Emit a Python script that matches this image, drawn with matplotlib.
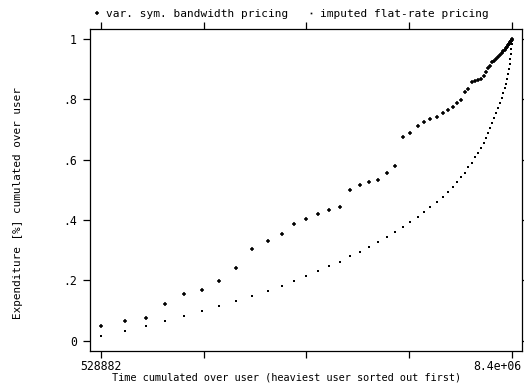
import matplotlib
matplotlib.use("Agg")
import matplotlib.pyplot as plt

# cumulated time per user (heaviest user first), in seconds
zeit = [528882, 988170, 1395788, 1765132, 2122994, 2461719, 2792789, 3118118,
        3430051, 3724761, 4004161, 4233805, 4463449, 4681611, 4903600, 5114107,
        5305477, 5491106, 5663339, 5835572, 6002064, 6157074, 6304429, 6453697,
        6595311, 6715874, 6836437, 6958914, 7069909, 7169421, 7265106, 7347395,
        7423943, 7490923, 7561730, 7634450, 7693775, 7756927, 7814338, 7860267,
        7898541, 7932987, 7978916, 8022931, 8061205, 8097566, 8135840, 8170286,
        8200905, 8229611, 8256403, 8281281, 8304245, 8323382, 8340605, 8355915,
        8369311, 8380793, 8388448, 8396103, 8400000]

# cumulated expenditure share, variable symmetric bandwidth pricing
var_bw = [0.047, 0.066, 0.075, 0.121, 0.155, 0.168, 0.197, 0.241, 0.302, 0.331,
          0.353, 0.385, 0.403, 0.420, 0.433, 0.442, 0.498, 0.515, 0.527, 0.532,
          0.556, 0.578, 0.674, 0.688, 0.712, 0.726, 0.734, 0.741, 0.756, 0.766,
          0.775, 0.787, 0.797, 0.823, 0.835, 0.856, 0.860, 0.863, 0.868, 0.877,
          0.891, 0.903, 0.911, 0.923, 0.928, 0.934, 0.939, 0.947, 0.953, 0.959,
          0.965, 0.970, 0.975, 0.979, 0.982, 0.986, 0.989, 0.992, 0.994, 0.997,
          1.000]

# cumulated expenditure share, imputed flat rate
flat = [0.016, 0.033, 0.049, 0.066, 0.082, 0.098, 0.115, 0.131, 0.148, 0.164,
        0.180, 0.197, 0.213, 0.230, 0.246, 0.262, 0.279, 0.295, 0.311, 0.328,
        0.344, 0.361, 0.377, 0.393, 0.410, 0.426, 0.443, 0.459, 0.475, 0.492,
        0.508, 0.525, 0.541, 0.557, 0.574, 0.590, 0.607, 0.623, 0.639, 0.656,
        0.672, 0.689, 0.705, 0.721, 0.738, 0.754, 0.770, 0.787, 0.803, 0.820,
        0.836, 0.852, 0.869, 0.885, 0.902, 0.918, 0.934, 0.951, 0.967, 0.984,
        1.000]

x_min, x_max = 528882, 8400000
x_ticks = [x_min + i * (x_max - x_min) / 4 for i in range(5)]
y_ticks = [0, 0.2, 0.4, 0.6, 0.8, 1]
y_labels = ["0", ".2", ".4", ".6", ".8", "1"]

font = "DejaVu Sans Mono"
fs_tick = 8.3
fs_xlab = 7.4
fs_ylab = 7.9
fs_leg = 8.0

W, H = 524, 383
fig = plt.figure(figsize=(W / 100, H / 100), dpi=100)
ax = fig.add_axes([90 / W, 1 - 351 / H, 431.5 / W, 322 / H])

p1, = ax.plot(zeit, var_bw, linestyle="none", marker="+", ms=3.2, mew=1.1,
              color="black", label="var. sym. bandwidth pricing")
p2, = ax.plot(zeit, flat, linestyle="none", marker="s", ms=1.5, mew=0,
              color="black", label="imputed flat-rate pricing")

ax.set_xlim(324116, 8581732)
ax.set_ylim(-0.0348, 1.0332)

ax.set_xticks(x_ticks)
ax.set_xticklabels(["528882", "", "", "", ""], family=font, fontsize=fs_tick)
ax.set_yticks(y_ticks)
ax.set_yticklabels(y_labels, family=font, fontsize=fs_tick)
ax.tick_params(direction="out", length=5, width=0.9, color="black",
               top=True, right=True)
ax.tick_params(axis="x", pad=1.2)
ax.tick_params(axis="y", pad=4.5)
for s in ax.spines.values():
    s.set_linewidth(0.9)

# last x label sits flush with the right edge of the frame
ax.text(1.0, -0.0265, "8.4e+06", transform=ax.transAxes, ha="right", va="top",
        family=font, fontsize=fs_tick)

fig.text(287 / W, 1 - 377.5 / H,
         "Time cumulated over user (heaviest user sorted out first)",
         ha="center", va="center", family=font, fontsize=fs_xlab)
fig.text(18 / W, 1 - 203 / H, "Expenditure [%] cumulated over user",
         rotation=90, ha="center", va="center", family=font, fontsize=fs_ylab)

fig.legend(handles=[p1, p2], loc="center left", bbox_to_anchor=(94 / W, 1 - 14 / H),
           ncol=2, frameon=False, prop={"family": font, "size": fs_leg},
           handlelength=0.6, handletextpad=0.5, columnspacing=1.75,
           borderpad=0, borderaxespad=0, markerscale=0.8)

fig.savefig("out.png", dpi=100)
